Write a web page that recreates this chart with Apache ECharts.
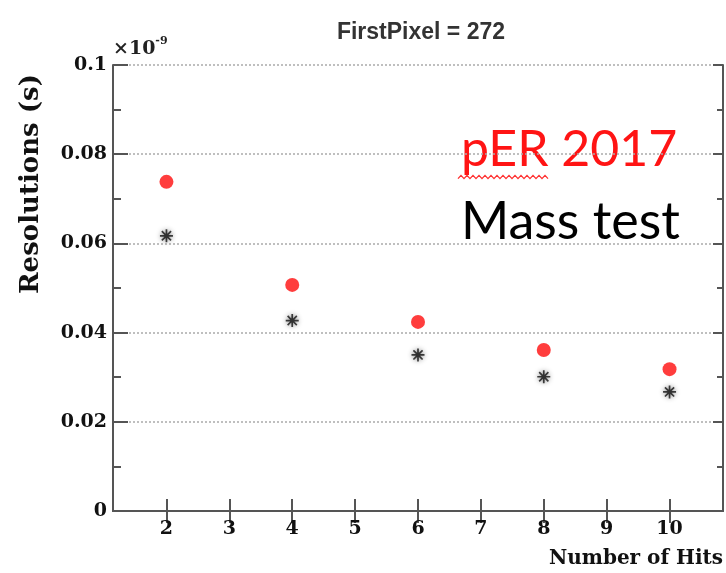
<!DOCTYPE html>
<html>
<head>
<meta charset="utf-8">
<script src="https://cdn.jsdelivr.net/npm/echarts@6/dist/echarts.min.js"></script>
<style>html,body{margin:0;padding:0;background:#fff}#c{width:726px;height:573px}</style>
</head>
<body>
<div id="c"></div>
<script>
// Data (resolution in units of 1e-9 s)
const hits = [2, 4, 6, 8, 10];
const per2017 = [0.0738, 0.0507, 0.0424, 0.0361, 0.0318];
const massTest = [0.0617, 0.0427, 0.0350, 0.0301, 0.0267];
const xTicks = [2, 3, 4, 5, 6, 7, 8, 9, 10];
const yTicks = [0, 0.02, 0.04, 0.06, 0.08, 0.1];

const chart = echarts.init(document.getElementById('c'));
const axisCol = '#555';
const serif = 'DejaVu Serif';
const asterisk = 'path://M-0.8,-6L0.8,-6L0.8,-1.9L3.7,-4.8L4.8,-3.7L1.9,-0.8L6,-0.8L6,0.8L1.9,0.8L4.8,3.7L3.7,4.8L0.8,1.9L0.8,6L-0.8,6L-0.8,1.9L-3.7,4.8L-4.8,3.7L-1.9,0.8L-6,0.8L-6,-0.8L-1.9,-0.8L-4.8,-3.7L-3.7,-4.8L-0.8,-1.9Z';

// squiggle under "pER"
const sq = [];
for (let i = 0; i <= 30; i++) sq.push([458 + i * 3, 177 + (i % 2 ? -1.6 : 1.6)]);

chart.setOption({
  animation: false,
  title: {
    text: 'FirstPixel = 272', left: 416, top: 16, textAlign: 'center',
    textStyle: {fontFamily: 'Liberation Sans', fontWeight: 'bold', fontSize: 23, color: '#333'}
  },
  grid: {left: 113, right: 2, top: 65, bottom: 62, containLabel: false},
  xAxis: [{
    type: 'value', min: 1.15, max: 10.85, position: 'bottom',
    name: 'Number of Hits', nameLocation: 'end', nameGap: 0,
    nameTextStyle: {fontFamily: serif, fontWeight: 'bold', fontSize: 20, color: '#111', align: 'right', verticalAlign: 'top', padding: [38, 0, 0, 0]},
    axisLine: {show: true, lineStyle: {color: axisCol, width: 2}},
    axisTick: {show: true, inside: true, length: 12, customValues: xTicks, lineStyle: {color: axisCol, width: 2}},
    axisLabel: {show: true, customValues: xTicks, margin: 9, fontFamily: serif, fontWeight: 'bold', fontSize: 19, color: '#111'},
    splitLine: {show: false}
  }, {
    type: 'value', min: 1.15, max: 10.85, position: 'top',
    axisLine: {show: true, lineStyle: {color: axisCol, width: 2}},
    axisTick: {show: true, inside: true, length: 12, customValues: xTicks, lineStyle: {color: axisCol, width: 2}},
    axisLabel: {show: false}, splitLine: {show: false}
  }],
  yAxis: [{
    type: 'value', min: 0, max: 0.1, interval: 0.02, position: 'left',
    name: '×10{sup|-9}', nameLocation: 'end', nameGap: 2,
    nameTextStyle: {fontFamily: serif, fontWeight: 'bold', fontSize: 19, color: '#222', align: 'left', verticalAlign: 'bottom', padding: [0, 0, 0, 0],
      rich: {sup: {fontFamily: serif, fontWeight: 'bold', fontSize: 11, color: '#222', verticalAlign: 'top', padding: [0, 0, 16, 0]}}},
    axisLine: {show: true, lineStyle: {color: axisCol, width: 2}},
    axisTick: {show: true, inside: true, length: 15, lineStyle: {color: axisCol, width: 2}},
    minorTick: {show: true, splitNumber: 2, length: 8, lineStyle: {color: axisCol, width: 2}},
    axisLabel: {show: true, margin: 6, fontFamily: serif, fontWeight: 'bold', fontSize: 19, color: '#111',
      customValues: yTicks, formatter: v => String(+v.toFixed(2))},
    splitLine: {show: true, lineStyle: {color: '#aaa', width: 1.5, type: [2, 2]}}
  }, {
    type: 'value', min: 0, max: 0.1, interval: 0.02, position: 'right',
    axisLine: {show: true, lineStyle: {color: axisCol, width: 2}},
    axisTick: {show: true, inside: true, length: 10, lineStyle: {color: axisCol, width: 2}},
    minorTick: {show: true, splitNumber: 2, length: 6, lineStyle: {color: axisCol, width: 2}},
    axisLabel: {show: false}, splitLine: {show: false}
  }],
  series: [{
    name: 'pER 2017', type: 'scatter', symbol: 'circle', symbolSize: 14,
    itemStyle: {color: '#ff0d0d'},
    data: hits.map((h, i) => [h, per2017[i]])
  }, {
    name: 'Mass test', type: 'scatter', symbol: asterisk, symbolSize: 13,
    itemStyle: {color: '#111', shadowBlur: 5, shadowColor: 'rgba(0,0,0,0.6)'},
    data: hits.map((h, i) => [h, massTest[i]])
  }],
  graphic: [
    {type: 'text', x: 31, y: 184, rotation: Math.PI / 2,
      style: {text: 'Resolutions (s)', fill: '#111', font: 'bold 26px "DejaVu Serif"', align: 'center', verticalAlign: 'middle'}},
    {type: 'text', left: 461, top: 125, style: {text: 'pER 2017', fill: '#ff1414', font: '50px Lato'}},
    {type: 'text', left: 461, top: 196, style: {text: 'Mass test', fill: '#000', font: '52px Lato'}},
    {type: 'polyline', shape: {points: sq}, style: {stroke: '#ff3030', lineWidth: 1.3, fill: null}}
  ]
});
</script>
</body>
</html>
